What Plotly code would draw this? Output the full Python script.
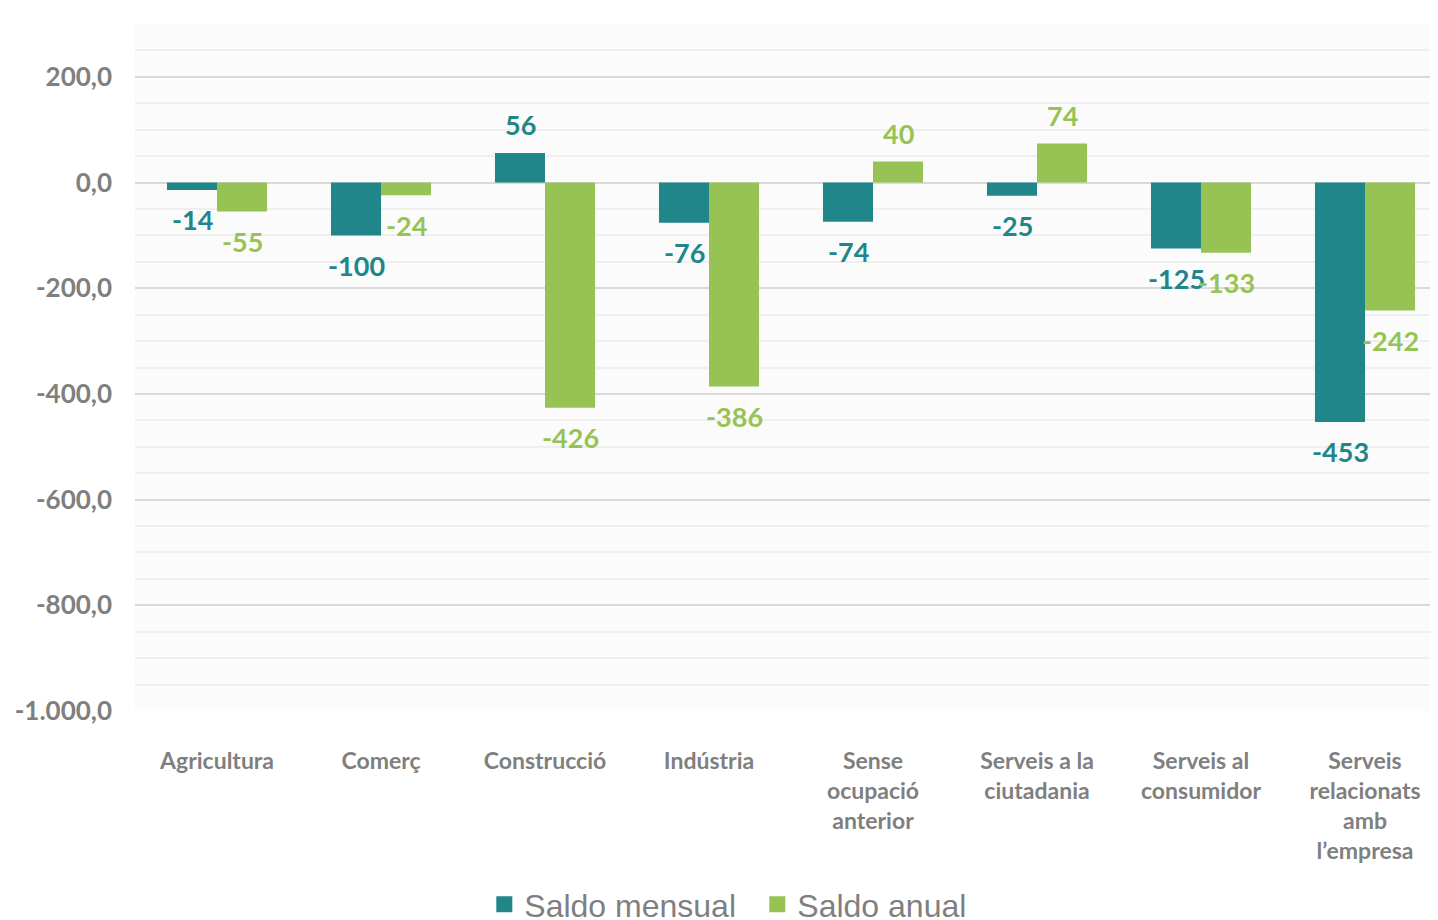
import plotly.graph_objects as go

categories = ["Agricultura", "Comerç", "Construcció", "Indústria",
              "Sense<br>ocupació<br>anterior", "Serveis a la<br>ciutadania",
              "Serveis al<br>consumidor", "Serveis<br>relacionats<br>amb<br>l’empresa"]
saldo_mensual = [-14, -100, 56, -76, -74, -25, -125, -453]
saldo_anual = [-55, -24, -426, -386, 40, 74, -133, -242]
tick_vals = [200, 0, -200, -400, -600, -800, -1000]
tick_text = ["200,0", "0,0", "-200,0", "-400,0", "-600,0", "-800,0", "-1.000,0"]

TEAL = "#20868A"
GREEN = "#97C354"
GRAY = "#7F7F7F"

fig = go.Figure()
fig.add_trace(go.Bar(name="Saldo mensual", x=categories, y=saldo_mensual, showlegend=False,
                     marker=dict(color=TEAL, line=dict(width=0))))
fig.add_trace(go.Bar(name="Saldo anual", x=categories, y=saldo_anual, showlegend=False,
                     marker=dict(color=GREEN, line=dict(width=0))))
# legend entries with larger square symbols
for name, color in (("Saldo mensual", TEAL), ("Saldo anual", GREEN)):
    fig.add_trace(go.Scatter(name=name, x=[None], y=[None], mode="markers",
                             marker=dict(symbol="square", size=16, color=color)))

annotations = []
for series, color, xs in ((saldo_mensual, TEAL, -25), (saldo_anual, GREEN, 25)):
    for c, v in zip(categories, series):
        annotations.append(dict(
            x=c, y=v, xref="x", yref="y", text=str(v), showarrow=False,
            xshift=xs, yshift=(28 if v > 0 else -30), yanchor="middle",
            font=dict(family="Lato", size=27, color=color, weight="bold")))

fig.update_layout(
    width=1439, height=924,
    margin=dict(l=127, r=0, t=16, b=221),
    paper_bgcolor="white",
    plot_bgcolor="#FBFBFB",
    barmode="group",
    bargap=0.39,
    bargroupgap=0,
    separators=",.",
    showlegend=True,
    legend=dict(orientation="h", xref="container", yref="container",
                x=0.331, xanchor="left", y=0.0, yanchor="bottom",
                itemsizing="trace", entrywidth=228, tracegroupgap=0,
                font=dict(family="Liberation Sans, Arial", size=32, color=GRAY),
                itemclick=False),
    annotations=annotations,
    xaxis=dict(tickfont=dict(family="Lato", size=23, color=GRAY, weight="bold"),
               ticklabelstandoff=34, showline=False, showgrid=False),
    yaxis=dict(range=[-1000, 300], tickvals=tick_vals, ticktext=tick_text,
               tickfont=dict(family="Lato", size=26, color=GRAY, weight="bold"),
               ticklabelstandoff=22,
               showgrid=True, gridcolor="#D9D9D9", gridwidth=1.5,
               zeroline=False,
               minor=dict(tick0=0, dtick=50, showgrid=True, gridcolor="#EFEFEF", gridwidth=1.5)),
)

fig.write_html("out.html", post_script="document.body.style.overflow='hidden';")
